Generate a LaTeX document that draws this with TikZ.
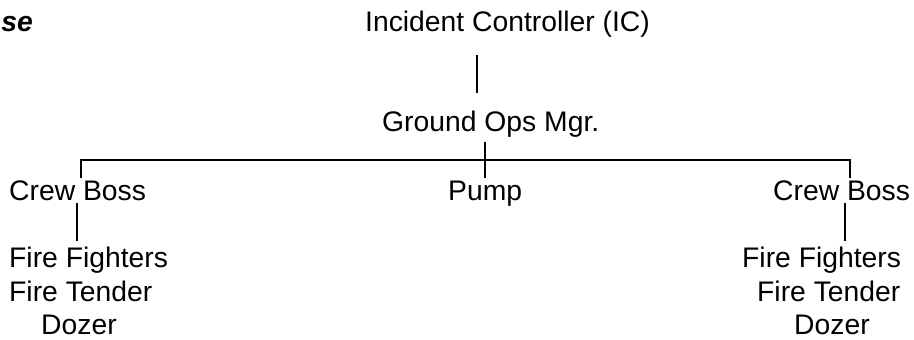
\documentclass[tikz,border=0pt]{standalone}
\usepackage{fontspec}
\setmainfont{Liberation Sans}
\begin{document}
\begin{tikzpicture}[x=1pt,y=1pt,
  lbl/.style={inner sep=0pt, anchor=base west, font=\fontsize{28.3}{34}\selectfont},
  conn/.style={line width=2pt}]
\useasboundingbox (0,0) rectangle (914,340);
% y_tikz = 340 - y_img
\node[inner sep=0pt, anchor=base east, font=\fontsize{28.3}{34}\selectfont\bfseries\itshape] (hdr) at (33,308) {se};
\node[lbl] (ic) at (365,308) {Incident Controller (IC)};
\node[lbl] (gom) at (382,208) {Ground Ops Mgr.};
\node[lbl] (cbl) at (9,139) {Crew Boss};
\node[lbl] (pump) at (448,139) {Pump};
\node[lbl] (cbr) at (773,139) {Crew Boss};
\node[lbl] (ffl) at (9,72) {Fire Fighters};
\node[lbl] (ftl) at (9,38) {Fire Tender};
\node[lbl] (dzl) at (41,5) {Dozer};
\node[lbl] (ffr) at (742,72) {Fire Fighters};
\node[lbl] (ftr) at (757,38) {Fire Tender};
\node[lbl] (dzr) at (794,5) {Dozer};
% connectors
\coordinate (a1) at (477,285);
\coordinate (a2) at (477,247);
\draw[conn] (a1) -- (a2);
\coordinate (b1) at (485,198);
\coordinate (b2) at (485,162);
\draw[conn] (b1) -- (b2);
\coordinate (hl) at (81,179.5);
\coordinate (hr) at (849.5,179.5);
\coordinate (hld) at (81,162);
\coordinate (hrd) at (849.5,162);
\draw[conn] (hld) -- (hl) -- (hr) -- (hrd);
\coordinate (c1) at (77,137);
\coordinate (c2) at (77,99);
\draw[conn] (c1) -- (c2);
\coordinate (d1) at (845,137);
\coordinate (d2) at (845,99);
\draw[conn] (d1) -- (d2);
\end{tikzpicture}
\end{document}
